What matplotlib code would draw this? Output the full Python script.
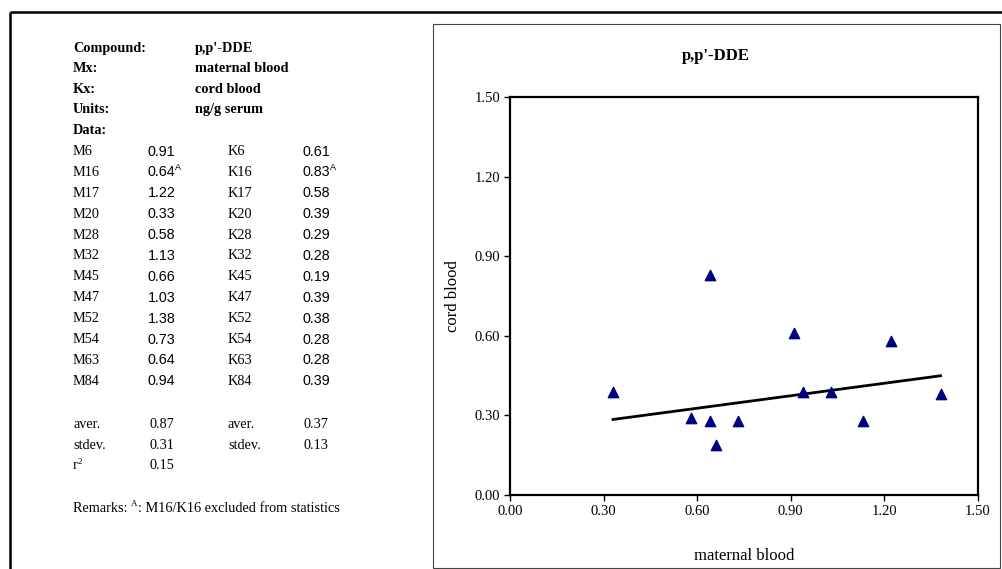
import numpy as np
import matplotlib
matplotlib.use('Agg')
import matplotlib.pyplot as plt
from matplotlib.patches import Rectangle

# data table
compound = "p,p'-DDE"
mx_name = 'maternal blood'
kx_name = 'cord blood'
units = 'ng/g serum'

m_labels = ['M6', 'M16', 'M17', 'M20', 'M28', 'M32', 'M45', 'M47', 'M52', 'M54', 'M63', 'M84']
m_vals = [0.91, 0.64, 1.22, 0.33, 0.58, 1.13, 0.66, 1.03, 1.38, 0.73, 0.64, 0.94]
k_labels = ['K6', 'K16', 'K17', 'K20', 'K28', 'K32', 'K45', 'K47', 'K52', 'K54', 'K63', 'K84']
k_vals = [0.61, 0.83, 0.58, 0.39, 0.29, 0.28, 0.19, 0.39, 0.38, 0.28, 0.28, 0.39]
excluded = [1]  # M16/K16

aver_m, stdev_m = 0.87, 0.31
aver_k, stdev_k = 0.37, 0.13
r2 = 0.15

W, H = 1002, 569
fig = plt.figure(figsize=(W / 100, H / 100), dpi=100)

serif = 'Liberation Serif'
sans = 'Liberation Sans'
fs = 10.3
vc = 'center_baseline'

def fx(px):
    return px / W

def fy(py):
    return 1 - py / H

# background axes for the table and frames
bg = fig.add_axes([0, 0, 1, 1])
bg.set_xlim(0, 1)
bg.set_ylim(0, 1)
bg.axis('off')

# outer frame lines
bg.plot([fx(10), 1], [fy(12), fy(12)], color='black', lw=1.8, solid_capstyle='butt')
bg.plot([fx(10), fx(10)], [fy(12), 0], color='black', lw=1.8, solid_capstyle='butt')

# chart box
bg.add_patch(Rectangle((fx(433), fy(568)), fx(1000) - fx(433), fy(24) - fy(568),
                       fill=False, edgecolor='#444444', lw=0.8))

# header
hdr = [('Compound:', compound, 47), ('Mx:', mx_name, 67), ('Kx:', kx_name, 88), ('Units:', units, 108)]
for lab, val, y in hdr:
    bg.text(fx(73), fy(y), lab, family=serif, weight='bold', fontsize=fs, va=vc)
    bg.text(fx(195), fy(y), val, family=serif, weight='bold', fontsize=fs, va=vc)
bg.text(fx(73), fy(129), 'Data:', family=serif, weight='bold', fontsize=fs, va=vc)

for i in range(len(m_labels)):
    y = 150 + i * 20.9
    bg.text(fx(73), fy(y), m_labels[i], family=serif, fontsize=fs, va=vc)
    tm = bg.text(fx(161.5), fy(y), '%.2f' % m_vals[i], family=sans, fontsize=fs, va=vc, ha='center')
    bg.text(fx(228), fy(y), k_labels[i], family=serif, fontsize=fs, va=vc)
    tk = bg.text(fx(316), fy(y), '%.2f' % k_vals[i], family=sans, fontsize=fs, va=vc, ha='center')
    if i in excluded:
        for t in (tm, tk):
            bg.annotate('A', xy=(1.0, 0.55), xycoords=t, family=sans, fontsize=6.5, va='bottom', ha='left')

# stats
for lab, val, y in [('aver.', aver_m, 423), ('stdev.', stdev_m, 444)]:
    bg.text(fx(73), fy(y), lab, family=serif, fontsize=fs, va=vc)
    bg.text(fx(161.5), fy(y), '%.2f' % val, family=serif, fontsize=fs, va=vc, ha='center')
for lab, val, y in [('aver.', aver_k, 423), ('stdev.', stdev_k, 444)]:
    bg.text(fx(228), fy(y), lab, family=serif, fontsize=fs, va=vc)
    bg.text(fx(316), fy(y), '%.2f' % val, family=serif, fontsize=fs, va=vc, ha='center')
tr = bg.text(fx(73), fy(464), 'r', family=serif, fontsize=fs, va=vc)
bg.annotate('2', xy=(1.0, 0.5), xycoords=tr, family=serif, fontsize=6.5, va='bottom', ha='left')
bg.text(fx(161.5), fy(464), '%.2f' % r2, family=serif, fontsize=fs, va=vc, ha='center')

t1 = bg.text(fx(73), fy(507), 'Remarks: ', family=serif, fontsize=fs, va=vc)
t2 = bg.annotate('A', xy=(1.0, 0.55), xycoords=t1, family=serif, fontsize=6.5, va='bottom', ha='left')
bg.annotate(': M16/K16 excluded from statistics', xy=(1.0, 0.5), xycoords=(t2, t1),
            family=serif, fontsize=fs, va='center', ha='left')

# scatter chart
ax = fig.add_axes([fx(510), fy(495), fx(978) - fx(510), fy(97) - fy(495)])
ax.scatter(m_vals, k_vals, marker='^', s=55, color='#000080', zorder=3)

keep = [i for i in range(len(m_vals)) if i not in excluded]
mk = np.array(m_vals)[keep]
kk = np.array(k_vals)[keep]
slope, icpt = np.polyfit(mk, kk, 1)
xl = np.array([mk.min(), mk.max()])
ax.plot(xl, slope * xl + icpt, color='black', lw=2)

ax.set_xlim(0, 1.5)
ax.set_ylim(0, 1.5)
ticks = [0.0, 0.3, 0.6, 0.9, 1.2, 1.5]
ax.set_xticks(ticks)
ax.set_yticks(ticks)
ax.set_xticklabels(['%.2f' % t for t in ticks], family=serif, fontsize=10.5)
ax.set_yticklabels(['%.2f' % t for t in ticks], family=serif, fontsize=10.5)
ax.tick_params(length=4, width=1, pad=3)
for s in ax.spines.values():
    s.set_linewidth(1.6)
ax.set_xlabel(mx_name, family=serif, fontsize=12)
ax.set_ylabel(kx_name, family=serif, fontsize=12)
ax.xaxis.set_label_coords(0.5, -(548 - 495) / (495 - 97))
ax.yaxis.set_label_coords(-(510 - 461) / (978 - 510), 0.5)
bg.text(fx(716), fy(56), compound, family=serif, weight='bold', fontsize=12, ha='center', va='center')

fig.savefig('out.png', dpi=100)
